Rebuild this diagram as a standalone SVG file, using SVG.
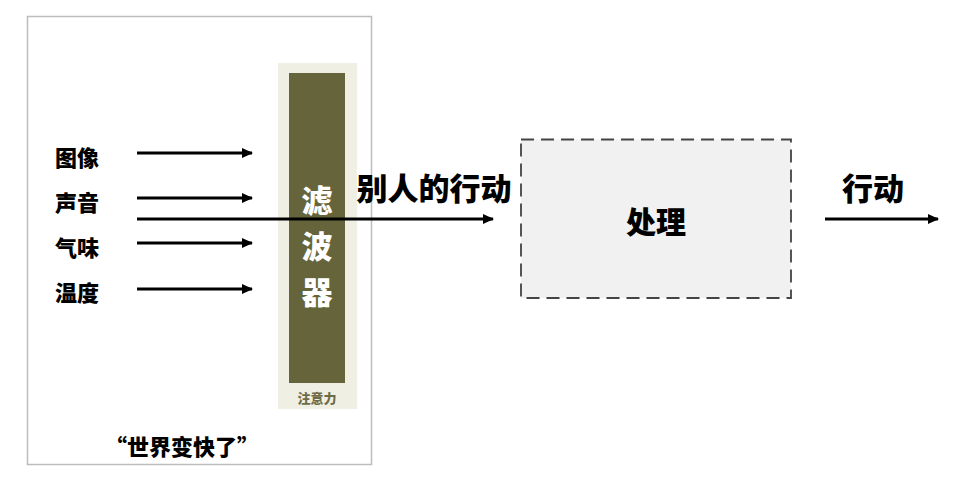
<svg xmlns="http://www.w3.org/2000/svg" width="960" height="481" viewBox="0 0 960 481">
<defs>
<marker id="ah" markerWidth="11" markerHeight="10" refX="10" refY="5" orient="auto" markerUnits="userSpaceOnUse">
<path d="M0,0 L11,5 L0,10 Z" fill="#000"/>
</marker>
<style>
.lbl{font-family:"Noto Sans CJK SC","Noto Sans CJK JP",sans-serif;font-weight:900;fill:#000;}
.wire{stroke:#000;stroke-width:3;fill:none;marker-end:url(#ah);}
</style>
</defs>
<rect width="960" height="481" fill="#fff"/>
<g id="world">
<rect x="27.5" y="16.5" width="344" height="448" fill="#fff" stroke="#bdbdbd" stroke-width="1.5"/>
<text class="lbl" x="182" y="455" font-size="22" text-anchor="middle">“世界变快了”</text>
</g>
<g id="inputs">
<text class="lbl" x="55" y="166" font-size="22">图像</text>
<text class="lbl" x="55" y="211" font-size="22">声音</text>
<text class="lbl" x="55" y="256" font-size="22">气味</text>
<text class="lbl" x="55" y="301" font-size="22">温度</text>
</g>
<g id="filter">
<rect x="278" y="63" width="79" height="346" fill="#f0efe4"/>
<rect x="289" y="73" width="56" height="310" fill="#66643a"/>
<text class="lbl" x="317" y="212" font-size="31" text-anchor="middle" style="fill:#fff">滤</text>
<text class="lbl" x="317" y="258" font-size="31" text-anchor="middle" style="fill:#fff">波</text>
<text class="lbl" x="317" y="304" font-size="31" text-anchor="middle" style="fill:#fff">器</text>
<text class="lbl" x="317" y="403" font-size="13" text-anchor="middle" style="fill:#6e6c48">注意力</text>
</g>
<g id="process">
<rect x="521" y="139.5" width="270" height="158.5" fill="#f1f1f1" stroke="#444" stroke-width="1.8" stroke-dasharray="13,7"/>
<text class="lbl" x="656" y="233" font-size="30" text-anchor="middle">处理</text>
</g>
<g id="labels">
<text class="lbl" x="434" y="200" font-size="31" text-anchor="middle">别人的行动</text>
<text class="lbl" x="873" y="200" font-size="31" text-anchor="middle">行动</text>
</g>
<g id="connectors">
<line class="wire" x1="137" y1="153" x2="252" y2="153"/>
<line class="wire" x1="137" y1="198" x2="252" y2="198"/>
<line class="wire" x1="137" y1="243" x2="252" y2="243"/>
<line class="wire" x1="137" y1="289" x2="252" y2="289"/>
<line class="wire" x1="137" y1="219" x2="493" y2="219"/>
<line class="wire" x1="825" y1="219" x2="938" y2="219"/>
</g>
</svg>
